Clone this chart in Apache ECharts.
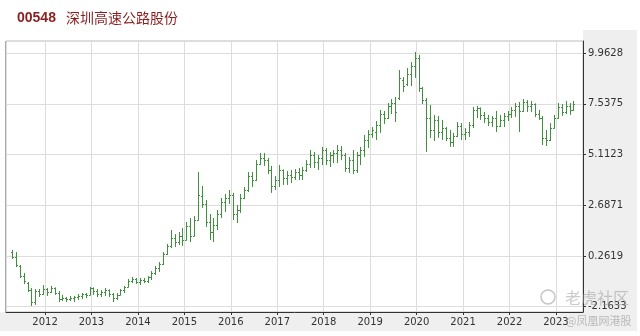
<!DOCTYPE html>
<html><head><meta charset="utf-8">
<script src="https://cdn.jsdelivr.net/npm/echarts@6.0.0/dist/echarts.min.js"></script>
<style>html,body{margin:0;padding:0;background:#fff}#c{width:640px;height:336px}</style>
</head><body><div id="c"></div>
<script>
const stockCode = '00548';
const stockName = '深圳高速公路股份';
const months = [
 '2011-04','2011-05','2011-06','2011-07','2011-08','2011-09','2011-10','2011-11','2011-12',
 '2012-01','2012-02','2012-03','2012-04','2012-05','2012-06','2012-07','2012-08','2012-09','2012-10','2012-11','2012-12',
 '2013-01','2013-02','2013-03','2013-04','2013-05','2013-06','2013-07','2013-08','2013-09','2013-10','2013-11','2013-12',
 '2014-01','2014-02','2014-03','2014-04','2014-05','2014-06','2014-07','2014-08','2014-09','2014-10','2014-11','2014-12',
 '2015-01','2015-02','2015-03','2015-04','2015-05','2015-06','2015-07','2015-08','2015-09','2015-10','2015-11','2015-12',
 '2016-01','2016-02','2016-03','2016-04','2016-05','2016-06','2016-07','2016-08','2016-09','2016-10','2016-11','2016-12',
 '2017-01','2017-02','2017-03','2017-04','2017-05','2017-06','2017-07','2017-08','2017-09','2017-10','2017-11','2017-12',
 '2018-01','2018-02','2018-03','2018-04','2018-05','2018-06','2018-07','2018-08','2018-09','2018-10','2018-11','2018-12',
 '2019-01','2019-02','2019-03','2019-04','2019-05','2019-06','2019-07','2019-08','2019-09','2019-10','2019-11','2019-12',
 '2020-01','2020-02','2020-03','2020-04','2020-05','2020-06','2020-07','2020-08','2020-09','2020-10','2020-11','2020-12',
 '2021-01','2021-02','2021-03','2021-04','2021-05','2021-06','2021-07','2021-08','2021-09','2021-10','2021-11','2021-12',
 '2022-01','2022-02','2022-03','2022-04','2022-05','2022-06','2022-07','2022-08','2022-09','2022-10','2022-11','2022-12',
 '2023-01','2023-02','2023-03','2023-04','2023-05'
];
const opens = [
 0.45,0.21,-0.22,-0.70,-1.03,-1.37,-1.94,-1.41,-1.56,
 -1.32,-1.46,-1.27,-1.51,-1.80,-1.75,-1.80,-1.75,-1.70,-1.65,-1.56,-1.60,
 -1.27,-1.41,-1.56,-1.46,-1.37,-1.56,-1.75,-1.60,-1.37,-1.22,-0.94,-0.84,
 -0.98,-0.89,-0.94,-0.74,-0.55,-0.31,-0.12,0.36,0.74,1.12,0.93,1.22,
 1.03,1.70,1.22,1.98,3.13,2.75,1.89,1.41,1.74,2.27,2.84,3.04,
 3.18,2.27,2.46,3.04,3.42,4.09,3.90,4.66,4.95,4.85,4.38,3.61,
 3.90,4.38,3.99,4.14,4.04,4.28,4.14,4.38,4.66,5.09,4.76,4.95,
 5.33,4.85,5.09,5.19,5.33,5.09,4.47,4.85,4.38,5.09,5.33,5.81,
 6.10,6.19,6.53,7.05,6.86,7.44,7.58,7.82,8.68,8.49,8.97,9.35,
 9.73,8.30,7.72,6.86,6.29,6.77,6.19,6.38,5.91,5.71,6.00,6.48,
 6.10,6.19,6.53,7.25,7.34,7.01,6.86,6.67,6.86,6.48,6.77,6.96,
 7.05,7.25,7.44,7.20,7.63,7.44,7.53,7.05,6.86,5.91,5.81,6.38,
 6.86,7.39,7.15,7.44,7.25
];
const highs = [
 0.55,0.45,-0.17,-0.55,-0.98,-1.27,-1.32,-1.32,-1.13,
 -1.27,-1.17,-1.24,-1.41,-1.60,-1.70,-1.65,-1.65,-1.56,-1.51,-1.51,-1.22,
 -1.24,-1.32,-1.37,-1.27,-1.34,-1.51,-1.51,-1.32,-1.17,-0.84,-0.74,-0.79,
 -0.79,-0.79,-0.70,-0.46,-0.22,-0.03,0.45,0.84,1.51,1.31,1.41,1.60,
 1.89,2.08,2.17,4.28,3.61,2.94,2.27,2.08,2.46,3.04,3.23,3.42,
 3.28,2.70,3.23,3.56,4.28,4.28,4.85,5.19,5.19,4.95,4.57,4.09,
 4.61,4.40,4.33,4.38,4.42,4.47,4.52,4.85,5.33,5.24,5.09,5.48,
 5.43,5.24,5.33,5.57,5.52,5.19,5.00,5.33,5.24,5.48,6.05,6.29,
 6.43,6.72,7.25,7.20,7.58,7.77,7.87,9.16,8.82,9.25,9.54,10.02,
 9.88,8.35,7.82,7.48,7.01,6.96,6.77,6.43,6.29,6.15,6.67,6.62,
 6.38,6.67,7.39,7.44,7.37,7.15,7.01,6.96,7.20,7.01,7.10,7.20,
 7.39,7.58,7.63,7.77,7.72,7.68,7.56,7.25,6.96,6.29,6.62,7.01,
 7.58,7.53,7.68,7.58,7.68
];
const lows = [
 0.12,-0.27,-0.79,-1.08,-1.46,-2.13,-2.08,-1.70,-1.60,
 -1.65,-1.51,-1.60,-1.94,-1.89,-1.94,-1.89,-1.94,-1.84,-1.80,-1.75,-1.62,
 -1.60,-1.70,-1.70,-1.65,-1.70,-1.94,-1.84,-1.62,-1.51,-1.24,-1.03,-1.08,
 -1.13,-1.03,-1.03,-0.89,-0.65,-0.50,-0.17,0.31,0.64,0.69,0.79,0.74,
 1.00,0.93,1.20,1.95,2.56,1.65,1.03,0.93,1.50,2.08,2.37,2.75,
 1.98,1.84,2.32,2.99,3.32,3.56,3.85,4.61,4.57,4.18,3.28,3.42,
 3.56,3.66,3.66,3.75,3.90,3.90,3.90,4.28,4.47,4.47,4.38,4.61,
 4.61,4.52,4.71,4.71,4.85,4.28,4.23,4.18,4.23,4.61,5.00,5.43,
 5.91,5.81,6.15,6.58,6.82,7.05,6.67,7.72,8.11,8.39,8.39,8.78,
 8.11,7.53,5.24,5.91,5.76,5.91,5.81,5.76,5.48,5.48,5.95,5.81,
 5.81,5.95,6.38,6.86,6.77,6.62,6.48,6.43,6.19,6.43,6.43,6.72,
 6.86,6.91,6.19,7.15,7.15,7.15,6.91,6.77,5.57,5.52,5.76,6.36,
 6.82,6.96,7.05,7.01,7.20
];
const closes = [
 0.21,-0.17,-0.70,-0.94,-1.37,-1.94,-1.41,-1.56,-1.32,
 -1.46,-1.27,-1.51,-1.80,-1.75,-1.80,-1.75,-1.70,-1.65,-1.56,-1.60,-1.27,
 -1.41,-1.56,-1.46,-1.37,-1.56,-1.75,-1.60,-1.37,-1.22,-0.94,-0.84,-0.98,
 -0.89,-0.94,-0.74,-0.55,-0.31,-0.12,0.36,0.74,1.12,0.93,1.22,1.03,
 1.70,1.22,1.98,3.18,2.75,1.89,1.41,1.74,2.27,2.84,3.04,3.18,
 2.27,2.46,3.04,3.42,4.09,3.90,4.66,4.95,4.85,4.38,3.61,3.90,
 4.38,3.99,4.14,4.04,4.28,4.14,4.38,4.66,5.09,4.76,4.95,5.33,
 4.85,5.09,5.19,5.33,5.09,4.47,4.85,4.38,5.09,5.33,5.81,6.10,
 6.29,6.53,7.05,6.86,7.44,7.58,7.15,8.78,8.39,8.97,9.35,9.73,
 8.30,7.72,6.86,6.29,6.77,6.19,6.38,5.91,5.71,6.00,6.48,6.10,
 6.19,6.53,7.25,7.34,7.01,6.86,6.67,6.86,6.48,6.77,6.96,7.05,
 7.25,7.44,7.20,7.63,7.44,7.53,7.05,6.86,5.91,5.81,6.38,6.86,
 7.39,7.15,7.44,7.25,7.53
];
const yTickValues = [-2.1633, 0.2619, 2.6871, 5.1123, 7.5375, 9.9628];
const yearTicks = [2012,2013,2014,2015,2016,2017,2018,2019,2020,2021,2022,2023];

const barColor = '#3f8f3f';
const data = months.map(function (m, i) {
  const p = m.split('-');
  return [Number(p[0]) + (Number(p[1]) - 0.5) / 12, opens[i], highs[i], lows[i], closes[i]];
});

const chart = echarts.init(document.getElementById('c'), null, {renderer: 'canvas'});
chart.setOption({
  animation: false,
  backgroundColor: '#fff',
  title: {
    left: 17, top: 9, padding: 0,
    text: '{a|' + stockCode + '}  {b|' + stockName + '}',
    textStyle: {
      rich: {
        a: {fontSize: 14, fontWeight: 'bold', color: '#8a1f1f', fontFamily: 'Liberation Sans, Arial'},
        b: {fontSize: 14, fontWeight: 'normal', color: '#8a1f1f', fontFamily: 'Noto Sans CJK SC'}
      }
    }
  },
  graphic: [
    {type: 'rect', z: -100, silent: true, shape: {x: 583, y: 30, width: 54, height: 301}, style: {fill: '#efefef'}},
    {type: 'rect', z: -100, silent: true, shape: {x: 0, y: 312, width: 583, height: 19}, style: {fill: '#efefef'}},
    {type: 'line', z: 5, silent: true, shape: {x1: 5.5, y1: 41, x2: 5.5, y2: 312}, style: {stroke: '#aaa', lineWidth: 1}},
    {type: 'circle', z: 100, silent: true, shape: {cx: 548, cy: 297, r: 7}, style: {fill: 'none', stroke: 'rgba(150,150,150,0.55)', lineWidth: 1.5}},
    {type: 'text', z: 100, silent: true, x: 565, y: 290, style: {text: '老虎社区', fontSize: 16, fontFamily: 'Noto Sans CJK SC', fill: 'rgba(150,150,150,0.5)'}},
    {type: 'text', z: 100, silent: true, x: 566, y: 315, style: {text: '@凤凰网港股', fontSize: 11, fontFamily: 'Noto Sans CJK SC', fill: 'rgba(150,150,150,0.6)'}}
  ],
  grid: {left: 6, right: 57, top: 41, bottom: 24, show: true, backgroundColor: '#fff', borderColor: '#bbb', borderWidth: 1},
  xAxis: {
    type: 'value', min: 2011.16, max: 2023.582,
    axisLine: {show: true, onZero: false, lineStyle: {color: '#333', width: 1}},
    axisTick: {show: true, customValues: yearTicks, length: 3, lineStyle: {color: '#333'}},
    axisLabel: {customValues: yearTicks, formatter: function (v) { return String(Math.round(v)); }, color: '#333', fontSize: 10, fontFamily: 'DejaVu Sans', margin: 5},
    splitLine: {show: true, lineStyle: {color: '#ddd', width: 1}}
  },
  yAxis: {
    type: 'value', position: 'right', min: -2.417, max: 10.545,
    axisLine: {show: true, onZero: false, lineStyle: {color: '#333', width: 1}},
    axisTick: {show: true, customValues: yTickValues, length: 3, lineStyle: {color: '#333'}},
    axisLabel: {customValues: yTickValues, formatter: function (v) { return v.toFixed(4); }, color: '#333', fontSize: 10, fontFamily: 'DejaVu Sans', margin: 5},
    splitLine: {show: true, lineStyle: {color: '#ddd', width: 1}}
  },
  series: [{
    type: 'custom',
    data: data,
    encode: {x: 0, y: [1, 2, 3, 4]},
    clip: true,
    renderItem: function (params, api) {
      const x = api.value(0);
      const o = api.coord([x, api.value(1)]);
      const h = api.coord([x, api.value(2)]);
      const l = api.coord([x, api.value(3)]);
      const c = api.coord([x, api.value(4)]);
      const px = Math.round(o[0]) + 0.5;
      const st = {stroke: barColor, lineWidth: 1};
      return {
        type: 'group',
        children: [
          {type: 'line', shape: {x1: px, y1: h[1], x2: px, y2: l[1]}, style: st},
          {type: 'line', shape: {x1: px - 1.5, y1: Math.round(o[1]) + 0.5, x2: px, y2: Math.round(o[1]) + 0.5}, style: st},
          {type: 'line', shape: {x1: px, y1: Math.round(c[1]) + 0.5, x2: px + 1.5, y2: Math.round(c[1]) + 0.5}, style: st}
        ]
      };
    }
  }]
});
</script>
</body></html>
